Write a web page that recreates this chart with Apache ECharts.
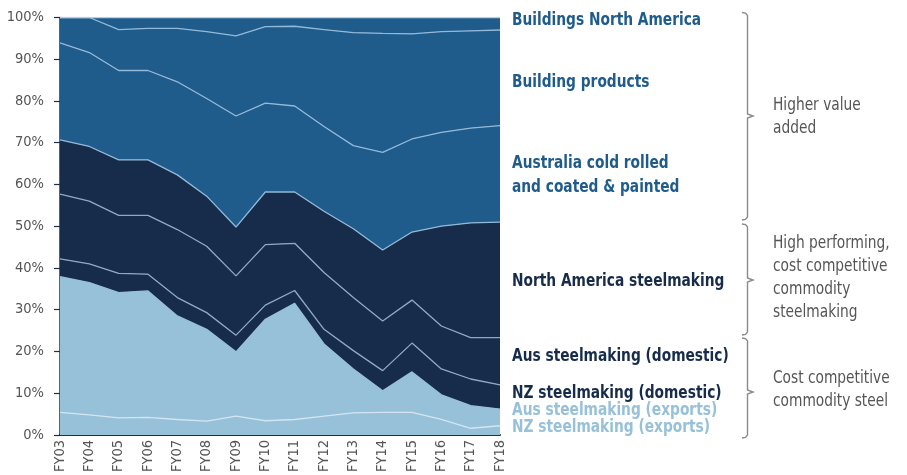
<!DOCTYPE html>
<html>
<head>
<meta charset="utf-8">
<script src="https://cdn.jsdelivr.net/npm/echarts@6/dist/echarts.min.js"></script>
<style>
  html, body { margin: 0; padding: 0; background: #ffffff; }
  #chart { width: 907px; height: 475px; }
</style>
</head>
<body>
<div id="chart"></div>
<script>
// Revenue mix by business, share of total (%), stacked from the bottom up
const years = ['FY03','FY04','FY05','FY06','FY07','FY08','FY09','FY10','FY11','FY12','FY13','FY14','FY15','FY16','FY17','FY18'];

const nzExports      = [5.4, 4.8, 4.1, 4.2, 3.7, 3.3, 4.5, 3.4, 3.7, 4.5, 5.3, 5.4, 5.4, 3.7, 1.6, 2.2];
const ausExports     = [32.5, 31.7, 30.0, 30.3, 24.8, 22.0, 15.4, 24.3, 27.8, 17.3, 10.5, 5.2, 9.7, 5.9, 5.4, 4.0];
const nzDomestic     = [4.3, 4.5, 4.6, 4.0, 4.4, 4.0, 4.0, 3.4, 3.1, 3.5, 4.4, 4.8, 6.9, 6.2, 6.4, 5.8];
const ausDomestic    = [15.5, 15.0, 13.9, 14.1, 16.3, 15.9, 14.2, 14.5, 11.3, 13.6, 12.7, 11.9, 10.3, 10.3, 9.9, 11.3];
const naSteelmaking  = [13.0, 13.1, 13.3, 13.3, 13.1, 12.0, 11.7, 12.6, 12.3, 14.7, 16.5, 17.0, 16.3, 23.9, 27.5, 27.7];
const ausColdRolled  = [23.2, 22.5, 21.4, 21.4, 22.3, 23.4, 26.6, 21.3, 20.6, 20.3, 19.9, 23.4, 22.3, 22.5, 22.7, 23.1];
const buildingProds  = [6.1, 8.4, 9.8, 10.1, 12.8, 16.0, 19.2, 18.3, 19.1, 23.2, 27.1, 28.5, 25.2, 24.1, 23.3, 22.9];
const buildingsNA    = [0.0, 0.0, 2.9, 2.6, 2.6, 3.4, 4.4, 2.2, 2.1, 2.9, 3.6, 3.8, 3.9, 3.4, 3.2, 3.0];

const yTicks = [0, 10, 20, 30, 40, 50, 60, 70, 80, 90, 100];

const FONT = '"DejaVu Sans Condensed", "Liberation Sans", sans-serif';
const MID = '#1f5b8b', NAVY = '#172b4a', LIGHT = '#97c0d9';

const layers = [
  { name: 'NZ steelmaking (exports)',  data: nzExports,     fill: LIGHT, edge: '#d2e5f1' },
  { name: 'Aus steelmaking (exports)', data: ausExports,    fill: LIGHT, edge: LIGHT },
  { name: 'NZ steelmaking (domestic)', data: nzDomestic,    fill: NAVY,  edge: '#8fa9c2' },
  { name: 'Aus steelmaking (domestic)',data: ausDomestic,   fill: NAVY,  edge: '#8fa9c2' },
  { name: 'North America steelmaking', data: naSteelmaking, fill: NAVY,  edge: '#93b9d8' },
  { name: 'Australia cold rolled and coated & painted', data: ausColdRolled, fill: MID, edge: '#93b9d8' },
  { name: 'Building products',         data: buildingProds, fill: MID,   edge: '#93b9d8' },
  { name: 'Buildings North America',   data: buildingsNA,   fill: MID,   edge: '#b5cfe2' }
];

const series = [];
// filled bands
layers.forEach(l => series.push({
  name: l.name, type: 'line', stack: 'area', data: l.data,
  symbol: 'none', smooth: false, z: 2,
  lineStyle: { width: 0 },
  areaStyle: { color: l.fill, opacity: 1 },
  emphasis: { disabled: true }
}));
// thin boundary lines drawn above all bands
layers.forEach(l => series.push({
  name: l.name + ' edge', type: 'line', stack: 'edge', data: l.data,
  symbol: 'none', smooth: false, z: 3,
  lineStyle: { width: 1.3, color: l.edge },
  emphasis: { disabled: true }
}));

// right-hand text and braces
const graphic = [];
const SQUEEZE = 0.9;
function textAt(text, x, y, color, font) {
  graphic.push({
    type: 'text', x: x, y: y, scaleX: SQUEEZE, scaleY: 1, silent: true,
    style: { x: 0, y: 0, text: text, fill: color, font: font, verticalAlign: 'middle', align: 'left' }
  });
}
function label(text, y, color) {
  textAt(text, 512, y, color, 'bold 17px ' + FONT);
}
label('Buildings North America', 21, MID);
label('Building products', 83, MID);
label('Australia cold rolled', 164, MID);
label('and coated & painted', 188, MID);
label('North America steelmaking', 282, NAVY);
label('Aus steelmaking (domestic)', 357, NAVY);
label('NZ steelmaking (domestic)', 394, NAVY);
label('Aus steelmaking (exports)', 411, LIGHT);
label('NZ steelmaking (exports)', 428, LIGHT);

function note(lines, yTop) {
  lines.forEach((t, i) => textAt(t, 773, yTop + i * 23, '#555555', '17px ' + FONT));
}
note(['Higher value', 'added'], 106);
note(['High performing,', 'cost competitive', 'commodity', 'steelmaking'], 244);
note(['Cost competitive', 'commodity steel'], 379);

function brace(y0, y1, ym) {
  const x = 747.5;
  graphic.push({
    type: 'polyline', silent: true,
    shape: { points: [[742, y0], [745.5, y0 + 0.6], [x, y0 + 3], [x, ym - 2], [753, ym], [x, ym + 2], [x, y1 - 3], [745.5, y1 - 0.6], [742, y1]] },
    style: { stroke: '#8a8a8a', lineWidth: 1.4, fill: null }
  });
}
brace(12.5, 220, 116);
brace(224, 335, 280);
brace(338, 438, 392);

const chart = echarts.init(document.getElementById('chart'), null, { renderer: 'canvas' });
chart.setOption({
  animation: false,
  backgroundColor: '#ffffff',
  grid: { left: 60, right: 407, top: 17.5, bottom: 38.5, containLabel: false },
  xAxis: {
    type: 'category', data: years, boundaryGap: false,
    axisLine: { show: true, lineStyle: { color: '#1b2f4e', width: 2 } },
    axisTick: { show: false },
    axisLabel: { rotate: 90, color: '#555555', fontFamily: FONT, fontSize: 14.5, margin: 5, interval: 0 },
    splitLine: { show: false }
  },
  yAxis: {
    type: 'value', min: yTicks[0], max: yTicks[yTicks.length - 1], interval: 10,
    axisLine: { show: true, lineStyle: { color: '#1b2f4e', width: 1.5 } },
    axisTick: { show: true, length: 6, lineStyle: { color: '#1b2f4e', width: 1.2 } },
    axisLabel: { formatter: '{value}%', color: '#555555', fontFamily: FONT, fontSize: 14.5, margin: 16 },
    splitLine: { show: false }
  },
  series,
  graphic
});
</script>
</body>
</html>
